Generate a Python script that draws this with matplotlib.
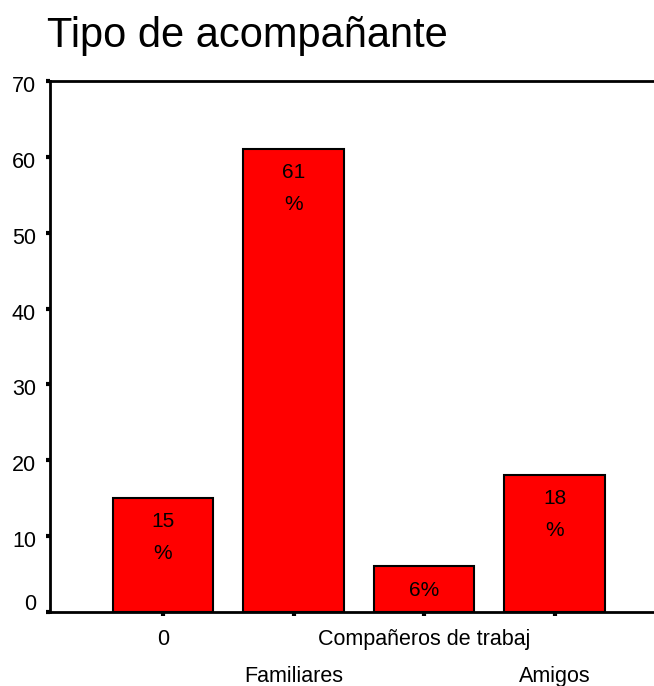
import matplotlib.pyplot as plt
from matplotlib.transforms import Bbox, TransformedBbox, ScaledTranslation

categorias = ['0', 'Familiares', 'Compañeros de trabaj', 'Amigos']
porcentajes = [15, 61, 6, 18]
etiquetas = ['15\n%', '61\n%', '6%', '18\n%']

plt.rcParams['font.family'] = ['Liberation Sans', 'DejaVu Sans']

fig = plt.figure(figsize=(6.54, 6.86), dpi=100)
ax = fig.add_axes([50/654, (686-612)/686, (654-50)/654, (612-81)/686])

x = list(range(len(categorias)))
ax.bar(x, porcentajes, width=0.77, color='#ff0000', edgecolor='black', linewidth=1.5)

ax.set_xlim(-0.865, 3.76)
ax.set_ylim(0, 70)
ax.set_yticks(range(0, 71, 10))
ax.set_xticks(x)
ax.set_xticklabels(categorias, fontsize=15.5)
ax.tick_params(axis='y', labelsize=15.5, direction='out', length=3, width=3, pad=7)
ax.tick_params(axis='x', direction='out', length=3, width=3, pad=9)

# etiquetas del eje x escalonadas en dos filas
for i, lbl in enumerate(ax.get_xticklabels()):
    if i % 2 == 1:
        lbl.set_transform(lbl.get_transform() + ScaledTranslation(0, -37/100, fig.dpi_scale_trans))

# las etiquetas del eje y quedan un poco desplazadas en el original
for lbl in ax.get_yticklabels():
    dy = 10 if lbl.get_text() == '0' else -3
    lbl.set_transform(lbl.get_transform() + ScaledTranslation(0, dy/100, fig.dpi_scale_trans))

for s in ['left', 'bottom', 'top']:
    ax.spines[s].set_linewidth(2)
ax.spines['right'].set_visible(False)

# textos dentro de las barras (el numero queda recortado como en el original)
px = 531 / 70.0
for xi, v, et in zip(x, porcentajes, etiquetas):
    if '\n' in et:
        num, pct = et.split('\n')
        t = ax.text(xi, v - 23/px, num, ha='center', va='center', fontsize=15)
        clip = TransformedBbox(Bbox([[xi - 0.4, v - 27.5/px], [xi + 0.4, v]]), ax.transData)
        t.set_clip_box(clip)
        ax.text(xi, v - 55/px, pct, ha='center', va='center', fontsize=15)
    else:
        ax.text(xi, v - 24.5/px, et, ha='center', va='center', fontsize=15)

fig.text(47/654, 1 - 36/686, 'Tipo de acompañante', fontsize=30, ha='left', va='center')

fig.savefig('out.png', dpi=100)
